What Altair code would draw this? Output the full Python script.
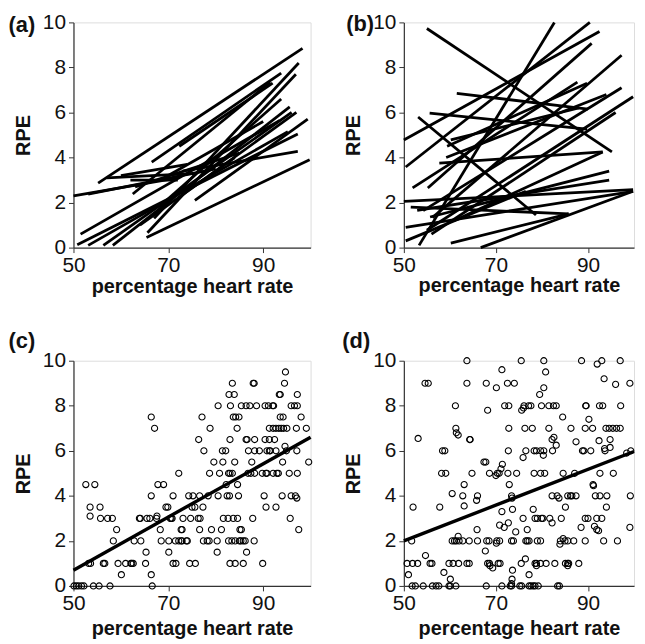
import altair as alt
import pandas as pd

FONT = "Liberation Sans"

# ---------- panel (a): individual regression lines (start HR, start RPE, end HR, end RPE)
a_x1 = [55.2, 50.0, 53.1, 65.4, 75.6, 50.8, 53.1, 56.3, 58.3, 51.5, 62.5, 66.5, 72.3, 65.6, 67.0, 73.0, 68.0, 57.0, 62.0, 63.0, 60.0, 64.0, 70.0, 72.0]
a_y1 = [2.86, 2.30, 2.38, 0.45, 2.10, 0.13, 0.10, 0.10, 0.10, 0.60, 2.38, 3.80, 4.50, 0.66, 1.30, 3.40, 1.80, 3.10, 3.00, 2.70, 3.20, 1.00, 3.20, 2.20]
a_x2 = [98.3, 72.0, 80.0, 99.8, 99.4, 97.3, 95.2, 96.0, 95.6, 93.5, 91.5, 93.8, 92.0, 96.9, 97.5, 97.3, 93.8, 76.0, 72.0, 85.0, 74.0, 84.0, 90.0, 97.0]
a_y2 = [8.85, 3.10, 3.50, 3.90, 5.70, 5.05, 5.15, 6.00, 6.25, 5.65, 7.35, 7.75, 7.30, 7.70, 8.20, 4.27, 6.60, 3.30, 3.00, 4.20, 3.70, 4.00, 5.60, 6.00]

# ---------- panel (b): individual regression lines
b_x1 = [55.0, 50.0, 50.4, 55.2, 53.3, 61.5, 55.6, 53.1, 57.7, 50.0, 50.4, 66.7, 60.2, 51.5, 51.9, 59.4, 56.2, 54.2, 55.0, 56.0, 52.9, 55.7, 59.2, 50.4, 61.0, 60.2]
b_y1 = [9.73, 4.78, 3.58, 2.65, 0.10, 6.85, 5.97, 5.80, 3.75, 2.05, 0.90, 0.00, 0.20, 1.80, 2.65, 4.50, 1.33, 1.64, 0.77, 0.60, 1.65, 1.36, 4.00, 0.30, 1.20, 4.78]
b_x2 = [95.2, 92.5, 90.4, 90.8, 82.7, 90.0, 89.8, 78.7, 93.2, 99.8, 99.8, 99.8, 85.8, 85.8, 87.7, 89.8, 97.3, 97.3, 99.8, 96.0, 94.6, 94.6, 94.0, 76.5, 93.2, 88.0]
b_y2 = [4.25, 9.60, 10.0, 9.07, 10.0, 6.15, 5.26, 1.45, 4.25, 2.57, 2.50, 2.50, 1.50, 1.50, 7.35, 7.30, 8.54, 7.10, 6.70, 6.00, 3.00, 3.40, 6.80, 2.50, 4.25, 6.20]

# ---------- panel (c): observations, grouped by RPE level
c_rpe = [9.5, 9.0, 8.5, 8.0, 7.5, 7.0, 6.5, 6.2, 6.0, 5.5, 5.0, 4.5, 4.0, 3.9, 3.5, 3.1, 3.0, 2.5, 2.0, 1.5, 1.0, 0.5, 0.0]
c_hr = [
    [94.7],
    [83.5, 87.9, 88.1, 94.5],
    [82.8, 83.9, 93.4, 93.6, 97.2],
    [80.5, 83.1, 85.4, 86.4, 87.2, 88.6, 90.4, 91.1, 92.0, 92.2, 95.9, 96.6, 97.2],
    [66.4, 77.1, 83.7, 84.2, 84.9, 93.6, 94.2, 98.0],
    [67.1, 78.8, 84.5, 91.3, 92.1, 92.7, 93.3, 93.8, 94.3, 95.0, 97.0, 99.1],
    [76.4, 83.0, 86.4, 86.6, 88.2, 90.4, 91.3, 92.4],
    [94.6],
    [77.5, 81.4, 82.1, 86.9, 88.2, 89.2, 90.8, 91.3, 91.5, 92.7, 94.9, 97.1],
    [79.6, 81.5, 84.0, 87.6, 94.1, 99.6],
    [72.2, 78.7, 80.8, 82.7, 83.0, 83.5, 86.8, 87.4, 88.2, 89.8, 90.6, 90.8, 92.1, 92.9, 93.2, 95.5, 97.2],
    [52.6, 54.5, 67.8, 69.0, 82.2, 84.6],
    [66.4, 71.0, 74.3, 75.2, 76.6, 78.4, 80.5, 82.4, 82.9, 84.8, 90.2, 94.0, 95.9, 96.8],
    [97.1],
    [53.5, 55.6, 69.5, 69.9, 75.0, 75.6, 77.3, 90.6, 92.7],
    [53.5, 67.6],
    [55.7, 57.2, 58.2, 63.9, 64.1, 65.5, 66.1, 67.5, 70.4, 70.6, 70.8, 73.1, 74.7, 76.3, 76.7, 81.6, 82.6, 83.7, 84.6, 87.8, 95.7],
    [59.1, 68.3, 72.7, 72.9, 76.6, 79.1, 81.2, 85.1, 85.4, 97.5],
    [58.4, 62.8, 64.2, 68.5, 70.1, 71.5, 72.2, 72.7, 72.9, 73.8, 74.0, 77.4, 78.2, 78.6, 80.3, 82.7, 83.4, 84.1, 85.0, 85.3, 85.8, 86.2, 88.1],
    [65.3, 70.1, 80.3, 86.5],
    [53.2, 53.6, 56.3, 56.6, 59.4, 61.0, 62.1, 62.3, 62.6, 65.2, 71.0, 71.6, 74.5, 75.7, 83.0, 84.1, 85.8, 89.9],
    [60.1, 66.4],
    [50.1, 50.6, 51.1, 51.7, 52.2, 54.2, 55.4, 57.7, 66.6],
]
c_fit_x = [50, 100]
c_fit_y = [0.7, 6.6]

# ---------- panel (d): observations, grouped by RPE level
d_rpe = [10.0, 9.85, 9.6, 9.5, 9.2, 9.0, 8.95, 8.8, 8.5, 8.0, 7.9, 7.8, 7.5, 7.4, 7.0, 6.8, 6.7, 6.6, 6.55, 6.5,
         6.45, 6.4, 6.25, 6.15, 6.1, 6.0, 5.9, 5.8, 5.7, 5.5, 5.4, 5.2, 5.0, 4.9, 4.5, 4.45, 4.1, 4.0, 3.9, 3.8,
         3.55, 3.5, 3.4, 3.3, 3.0, 2.8, 2.7, 2.65, 2.6, 2.5, 2.45, 2.4, 2.2, 2.1, 2.0, 1.9, 1.85, 1.55, 1.35, 1.2,
         1.0, 0.9, 0.8, 0.7, 0.6, 0.5, 0.3, 0.1, 0.0]
d_hr = [
    [63.7, 75.5, 80.4, 88.6, 93.0, 97.0], [92.0], [71.3], [80.8], [93.5],
    [54.6, 55.3, 63.7, 67.9, 72.5, 74.0, 99.1], [96.0], [70.1, 80.4], [79.5],
    [61.2, 71.9, 72.8, 76.1, 77.1, 77.6, 79.9, 81.5, 82.5, 83.1, 89.5, 89.6, 92.5, 93.2, 97.1],
    [76.0], [68.2, 75.6], [84.5], [90.2],
    [61.3, 72.8, 76.3, 77.9, 81.5, 86.3, 89.4, 91.0, 93.9, 94.6, 95.4, 96.2, 97.0],
    [61.4], [61.8], [82.6], [53.1], [64.3, 64.4, 82.2, 94.8],
    [92.4], [87.4], [83.1], [94.8], [93.6],
    [58.4, 58.9, 72.7, 76.5, 78.3, 78.8, 79.7, 80.4, 82.3, 88.8, 89.1, 90.6, 93.7, 99.3],
    [98.4], [80.3], [75.9], [67.4, 67.8], [71.4], [71.1],
    [58.2, 59.1, 64.8, 68.6, 70.3, 70.7, 72.6, 74.5, 78.3, 79.7, 80.6, 84.6, 87.1, 92.6, 95.5],
    [70.0], [63.1, 72.9, 91.1], [91.2], [60.5],
    [62.8, 66.0, 73.4, 82.2, 83.3, 85.6, 86.2, 86.5, 87.4, 91.6, 92.6, 94.1, 99.2],
    [73.5, 83.7], [65.8],
    [63.1], [52.0, 57.8, 85.1, 94.0], [73.6, 78.1], [71.3],
    [75.9, 78.5, 79.0, 79.9, 80.2, 81.7, 84.2, 89.4, 90.0, 91.9, 93.0],
    [72.7, 82.2], [70.8], [91.4], [71.8, 88.5, 99.1], [65.9, 76.8, 91.9], [92.3], [74.3], [61.8], [84.6],
    [51.7, 60.5, 61.0, 61.4, 62.0, 62.8, 64.2, 66.0, 68.0, 68.5, 70.2, 70.8, 73.4, 73.8, 76.5, 76.8, 77.2,
     79.0, 79.7, 84.0, 85.0, 85.6, 86.9, 89.4, 93.4, 96.4],
    [70.1], [83.9], [67.7], [54.7], [76.4],
    [50.7, 51.9, 53.0, 55.7, 56.1, 59.8, 60.7, 61.9, 63.7, 64.2, 68.2, 68.6, 70.5, 70.9, 75.5, 78.5, 78.8,
     79.7, 80.9, 82.8, 85.1, 85.6, 85.8, 88.0],
    [68.7, 78.8, 85.6], [69.3], [73.6], [58.7], [51.0, 77.2], [60.1, 73.5], [73.4],
    [51.8, 52.5, 54.2, 56.2, 57.0, 57.6, 59.8, 60.1, 61.3, 67.9, 71.3, 73.1, 73.4, 75.2, 75.6, 77.2, 77.6,
     78.1, 78.5, 79.2, 83.4, 83.8],
]
d_fit_x = [50, 100]
d_fit_y = [2.0, 5.97]

x_ticks = [50, 70, 90]
y_ticks = [0, 2, 4, 6, 8, 10]

INK = "#111111"
AX = "#333333"
LABEL_SIZE = 21
TITLE_SIZE = 20


def x_axis(title_pad):
    return alt.Axis(values=x_ticks, title="percentage heart rate", grid=False, tickSize=5,
                    labelFontSize=LABEL_SIZE, labelFont=FONT, labelColor=INK, labelPadding=2,
                    labelFlush=False, labelOverlap=False,
                    titleFontSize=TITLE_SIZE, titleFont=FONT, titleFontWeight="bold", titleColor=INK,
                    titlePadding=title_pad, domainColor=AX, tickColor=AX, domainWidth=1.2)


def y_axis():
    return alt.Axis(values=y_ticks, title="RPE", grid=False, tickSize=5,
                    labelFontSize=LABEL_SIZE, labelFont=FONT, labelColor=INK, labelPadding=3,
                    labelFlush=False, labelOverlap=False,
                    titleFontSize=TITLE_SIZE, titleFont=FONT, titleFontWeight="bold", titleColor=INK,
                    titlePadding=9, domainColor=AX, tickColor=AX, domainWidth=1.2)


xs = alt.Scale(domain=[50, 100], nice=False, zero=False)
ys = alt.Scale(domain=[0, 10], nice=False, zero=False)


def label(text, dx, dy):
    return alt.Chart(pd.DataFrame({"t": [text]})).mark_text(
        font=FONT, fontSize=22, fontWeight="bold", color=INK, align="center", baseline="middle"
    ).encode(x=alt.value(dx), y=alt.value(dy), text="t:N")


def line_panel(x1, y1, x2, y2, lab, lx, ly, tpad, w):
    df = pd.DataFrame({"x1": x1, "y1": y1, "x2": x2, "y2": y2})
    rules = alt.Chart(df).mark_rule(color="black", strokeWidth=2.8).encode(
        x=alt.X("x1:Q", scale=xs, axis=x_axis(tpad)),
        y=alt.Y("y1:Q", scale=ys, axis=y_axis()),
        x2="x2:Q", y2="y2:Q")
    return alt.layer(rules, label(lab, lx, ly)).properties(width=w, height=227)


def scatter_panel(rpe, hr, fx, fy, lab, lx, ly, tpad, w):
    xs_l, ys_l = [], []
    for r, row in zip(rpe, hr):
        for h in row:
            xs_l.append(h)
            ys_l.append(r)
    pts = pd.DataFrame({"hr": xs_l, "rpe": ys_l})
    fit = pd.DataFrame({"x1": [fx[0]], "y1": [fy[0]], "x2": [fx[1]], "y2": [fy[1]]})
    p = alt.Chart(pts).mark_point(shape="circle", filled=False, size=38, strokeWidth=1.1,
                                  color="black", opacity=1).encode(
        x=alt.X("hr:Q", scale=xs, axis=x_axis(tpad)),
        y=alt.Y("rpe:Q", scale=ys, axis=y_axis()))
    f = alt.Chart(fit).mark_rule(color="black", strokeWidth=3.4).encode(
        x="x1:Q", y="y1:Q", x2="x2:Q", y2="y2:Q")
    return alt.layer(p, f, label(lab, lx, ly)).properties(width=w, height=227)


pa = line_panel(a_x1, a_y1, a_x2, a_y2, "(a)", -52, 3, 1, 239)
pb = line_panel(b_x1, b_y1, b_x2, b_y2, "(b)", -44, 2, 0, 232)
pc = scatter_panel(c_rpe, c_hr, c_fit_x, c_fit_y, "(c)", -52, -20, 5, 239)
pd_ = scatter_panel(d_rpe, d_hr, d_fit_x, d_fit_y, "(d)", -48, -20, 5, 232)

chart = alt.concat(pa, pb, pc, pd_, columns=2, spacing={"row": 114, "column": 94},
                   bounds="flush", align="all").properties(
    padding={"left": 0, "top": 0, "right": 0, "bottom": 0}
).configure_view(stroke=None).configure(font=FONT)

chart.save("out.html", embed_options={"renderer": "svg", "actions": False})
